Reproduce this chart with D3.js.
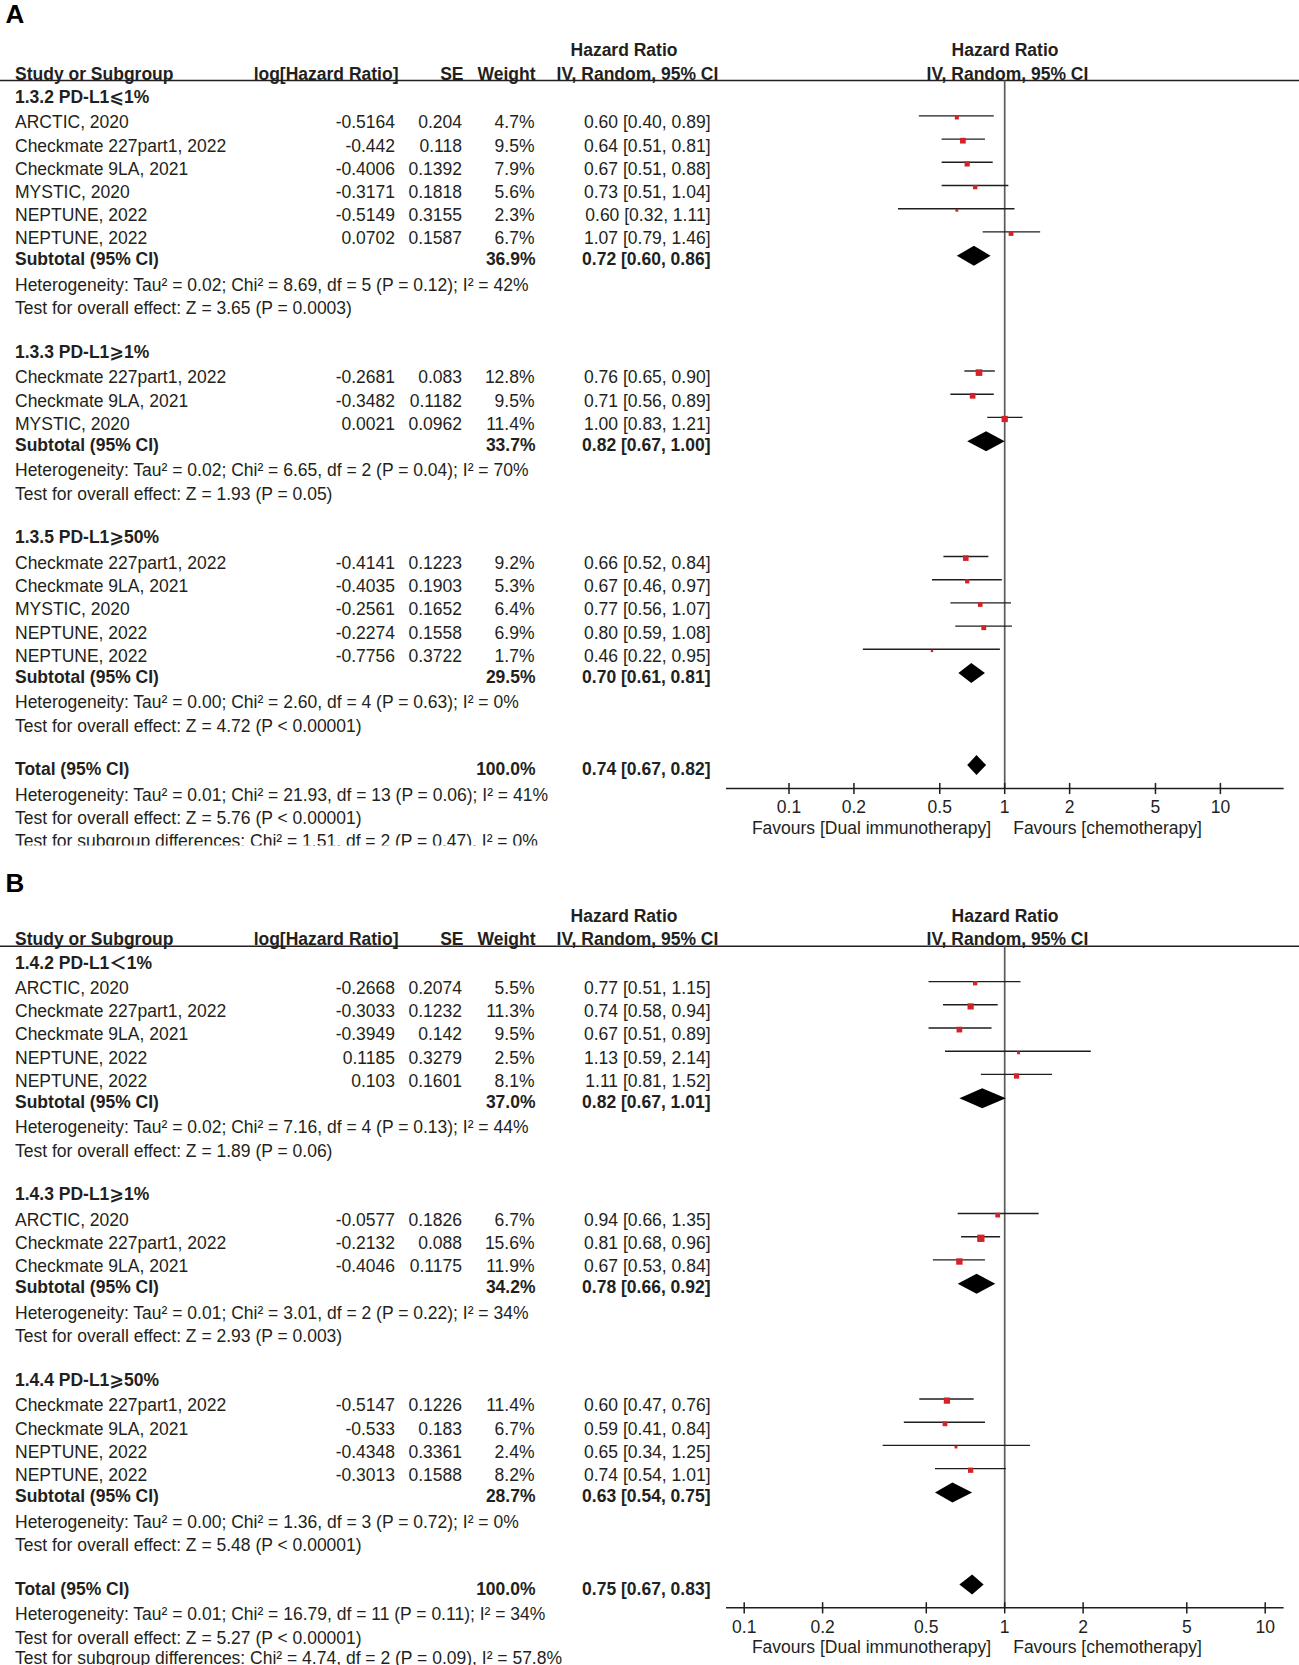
<!DOCTYPE html>
<html>
<head>
<meta charset="utf-8">
<script src="https://cdn.jsdelivr.net/npm/d3@7"></script>
<style>
  html, body { margin: 0; padding: 0; background: #fff; }
  svg { display: block; }
  text { font-family: "Liberation Sans", Arial, "DejaVu Sans", "Noto Sans CJK SC", sans-serif; fill: #231f20; }
</style>
</head>
<body>
<svg id="chart" width="1299" height="1665"></svg>
<script>
// ---------------- DATA: Panel A ----------------
const aGroups = ["1.3.2 PD-L1⩽1%", "1.3.3 PD-L1⩾1%", "1.3.5 PD-L1⩾50%"];
const aStudyGroup = [0, 0, 0, 0, 0, 0, 1, 1, 1, 2, 2, 2, 2, 2];
const aStudies = ["ARCTIC, 2020", "Checkmate 227part1, 2022", "Checkmate 9LA, 2021", "MYSTIC, 2020", "NEPTUNE, 2022", "NEPTUNE, 2022",
  "Checkmate 227part1, 2022", "Checkmate 9LA, 2021", "MYSTIC, 2020",
  "Checkmate 227part1, 2022", "Checkmate 9LA, 2021", "MYSTIC, 2020", "NEPTUNE, 2022", "NEPTUNE, 2022"];
const aLogHR = [-0.5164, -0.442, -0.4006, -0.3171, -0.5149, 0.0702, -0.2681, -0.3482, 0.0021, -0.4141, -0.4035, -0.2561, -0.2274, -0.7756];
const aSE = [0.204, 0.118, 0.1392, 0.1818, 0.3155, 0.1587, 0.083, 0.1182, 0.0962, 0.1223, 0.1903, 0.1652, 0.1558, 0.3722];
const aWeight = [4.7, 9.5, 7.9, 5.6, 2.3, 6.7, 12.8, 9.5, 11.4, 9.2, 5.3, 6.4, 6.9, 1.7];
const aHR = [0.60, 0.64, 0.67, 0.73, 0.60, 1.07, 0.76, 0.71, 1.00, 0.66, 0.67, 0.77, 0.80, 0.46];
const aLo = [0.40, 0.51, 0.51, 0.51, 0.32, 0.79, 0.65, 0.56, 0.83, 0.52, 0.46, 0.56, 0.59, 0.22];
const aHi = [0.89, 0.81, 0.88, 1.04, 1.11, 1.46, 0.90, 0.89, 1.21, 0.84, 0.97, 1.07, 1.08, 0.95];
const aSubWeight = [36.9, 33.7, 29.5];
const aSubHR = [0.72, 0.82, 0.70];
const aSubLo = [0.60, 0.67, 0.61];
const aSubHi = [0.86, 1.00, 0.81];
const aHet = ["Heterogeneity: Tau² = 0.02; Chi² = 8.69, df = 5 (P = 0.12); I² = 42%",
  "Heterogeneity: Tau² = 0.02; Chi² = 6.65, df = 2 (P = 0.04); I² = 70%",
  "Heterogeneity: Tau² = 0.00; Chi² = 2.60, df = 4 (P = 0.63); I² = 0%"];
const aTest = ["Test for overall effect: Z = 3.65 (P = 0.0003)",
  "Test for overall effect: Z = 1.93 (P = 0.05)",
  "Test for overall effect: Z = 4.72 (P < 0.00001)"];
const aTotal = [100.0, 0.74, 0.67, 0.82]; // weight, HR, lower, upper
const aFooter = ["Heterogeneity: Tau² = 0.01; Chi² = 21.93, df = 13 (P = 0.06); I² = 41%",
  "Test for overall effect: Z = 5.76 (P < 0.00001)",
  "Test for subgroup differences: Chi² = 1.51, df = 2 (P = 0.47), I² = 0%"];

// ---------------- DATA: Panel B ----------------
const bGroups = ["1.4.2 PD-L1＜1%", "1.4.3 PD-L1⩾1%", "1.4.4 PD-L1⩾50%"];
const bStudyGroup = [0, 0, 0, 0, 0, 1, 1, 1, 2, 2, 2, 2];
const bStudies = ["ARCTIC, 2020", "Checkmate 227part1, 2022", "Checkmate 9LA, 2021", "NEPTUNE, 2022", "NEPTUNE, 2022",
  "ARCTIC, 2020", "Checkmate 227part1, 2022", "Checkmate 9LA, 2021",
  "Checkmate 227part1, 2022", "Checkmate 9LA, 2021", "NEPTUNE, 2022", "NEPTUNE, 2022"];
const bLogHR = [-0.2668, -0.3033, -0.3949, 0.1185, 0.103, -0.0577, -0.2132, -0.4046, -0.5147, -0.533, -0.4348, -0.3013];
const bSE = [0.2074, 0.1232, 0.142, 0.3279, 0.1601, 0.1826, 0.088, 0.1175, 0.1226, 0.183, 0.3361, 0.1588];
const bWeight = [5.5, 11.3, 9.5, 2.5, 8.1, 6.7, 15.6, 11.9, 11.4, 6.7, 2.4, 8.2];
const bHR = [0.77, 0.74, 0.67, 1.13, 1.11, 0.94, 0.81, 0.67, 0.60, 0.59, 0.65, 0.74];
const bLo = [0.51, 0.58, 0.51, 0.59, 0.81, 0.66, 0.68, 0.53, 0.47, 0.41, 0.34, 0.54];
const bHi = [1.15, 0.94, 0.89, 2.14, 1.52, 1.35, 0.96, 0.84, 0.76, 0.84, 1.25, 1.01];
const bSubWeight = [37.0, 34.2, 28.7];
const bSubHR = [0.82, 0.78, 0.63];
const bSubLo = [0.67, 0.66, 0.54];
const bSubHi = [1.01, 0.92, 0.75];
const bHet = ["Heterogeneity: Tau² = 0.02; Chi² = 7.16, df = 4 (P = 0.13); I² = 44%",
  "Heterogeneity: Tau² = 0.01; Chi² = 3.01, df = 2 (P = 0.22); I² = 34%",
  "Heterogeneity: Tau² = 0.00; Chi² = 1.36, df = 3 (P = 0.72); I² = 0%"];
const bTest = ["Test for overall effect: Z = 1.89 (P = 0.06)",
  "Test for overall effect: Z = 2.93 (P = 0.003)",
  "Test for overall effect: Z = 5.48 (P < 0.00001)"];
const bTotal = [100.0, 0.75, 0.67, 0.83];
const bFooter = ["Heterogeneity: Tau² = 0.01; Chi² = 16.79, df = 11 (P = 0.11); I² = 34%",
  "Test for overall effect: Z = 5.27 (P < 0.00001)",
  "Test for subgroup differences: Chi² = 4.74, df = 2 (P = 0.09), I² = 57.8%"];

// ---------------- AXIS LABELS ----------------
const tickValues = [0.1, 0.2, 0.5, 1, 2, 5, 10];
const favoursLeft = "Favours [Dual immunotherapy]";
const favoursRight = "Favours [chemotherapy]";
const colHeaders = ["Study or Subgroup", "log[Hazard Ratio]", "SE", "Weight", "Hazard Ratio", "IV, Random, 95% CI"];

// ---------------- DRAWING ----------------
const FS = 17.5;
const CAP = FS * 0.358;
const svg = d3.select("#chart");
svg.append("rect").attr("width", 1299).attr("height", 1665).attr("fill", "#fff");

const col = { study: 15, logHR: 395, se: 462, weight: 534.5, ci: 710.5 };
const fmt2 = d3.format(".2f");
const fmtW = v => v.toFixed(1) + "%";
const ciText = (h, l, u) => `${fmt2(h)} [${fmt2(l)}, ${fmt2(u)}]`;

function txt(g, x, yc, s, opts = {}) {
  return g.append("text")
    .attr("x", x).attr("y", yc + CAP)
    .attr("text-anchor", opts.anchor || "start")
    .attr("font-size", opts.size || FS)
    .attr("font-weight", opts.bold ? "bold" : "normal")
    .text(s);
}

function drawPanel(P) {
  const g = svg.append("g");
  if (P.clipY) {
    const id = "clip" + P.label;
    svg.append("clipPath").attr("id", id).append("rect").attr("x", 0).attr("y", 0).attr("width", 1299).attr("height", P.clipY);
    g.attr("clip-path", `url(#${id})`);
  }
  const x = d3.scaleLog().domain([0.1, 10]).range(P.xRange);
  const wScale = d3.scaleSqrt().domain([0, 16]).range([0, 7.4]);

  // layout of rows
  let y = P.startY;
  const rows = [];
  P.groups.forEach((gname, gi) => {
    if (gi > 0) y += 43.6;
    rows.push({ type: "group", y, gi });
    const idx = P.studyGroup.map((v, i) => v === gi ? i : -1).filter(i => i >= 0);
    idx.forEach((i, k) => { y += (k === 0 ? 25.5 : 23.2); rows.push({ type: "study", y, i }); });
    y += 20.8; rows.push({ type: "sub", y, gi });
    y += 25.8; rows.push({ type: "het", y, gi });
    y += 23.4; rows.push({ type: "test", y, gi });
  });
  y += 43.6; rows.push({ type: "total", y });
  const totalY = y;
  y += 25.5; rows.push({ type: "fhet", y });
  y += 23.4; rows.push({ type: "ftest", y });
  y += 22.4; rows.push({ type: "fsub", y });

  const headerLineY = P.startY - 16.1;
  const axisY = totalY + 19.4;

  // Panel label
  txt(svg, 5.5, P.labelY, P.label, { size: 26, bold: true }).style("fill", "#000");

  // Header
  txt(g, col.study, P.startY - 23.3, colHeaders[0], { bold: true });
  txt(g, 398.5, P.startY - 23.3, colHeaders[1], { bold: true, anchor: "end" });
  txt(g, 463.5, P.startY - 23.3, colHeaders[2], { bold: true, anchor: "end" });
  txt(g, 535.5, P.startY - 23.3, colHeaders[3], { bold: true, anchor: "end" });
  txt(g, 624, P.startY - 46.7, colHeaders[4], { bold: true, anchor: "middle" });
  txt(g, 637.5, P.startY - 23.3, colHeaders[5], { bold: true, anchor: "middle" });
  txt(g, 1005, P.startY - 46.7, colHeaders[4], { bold: true, anchor: "middle" });
  txt(g, 1007.5, P.startY - 23.3, colHeaders[5], { bold: true, anchor: "middle" });
  g.append("line").attr("x1", 0).attr("x2", 1299).attr("y1", headerLineY).attr("y2", headerLineY)
    .attr("stroke", "#231f20").attr("stroke-width", 1.6);

  // vertical null line
  g.append("line").attr("x1", x(1)).attr("x2", x(1)).attr("y1", headerLineY).attr("y2", axisY)
    .attr("stroke", "#5a5a5a").attr("stroke-width", 1.7);

  rows.forEach(r => {
    if (r.type === "group") {
      txt(g, col.study, r.y, P.groups[r.gi], { bold: true });
    } else if (r.type === "study") {
      const i = r.i;
      txt(g, col.study, r.y, P.studies[i]);
      txt(g, col.logHR, r.y, String(P.logHR[i]), { anchor: "end" });
      txt(g, col.se, r.y, String(P.se[i]), { anchor: "end" });
      txt(g, col.weight, r.y, fmtW(P.weight[i]), { anchor: "end" });
      txt(g, col.ci, r.y, ciText(P.hr[i], P.lo[i], P.hi[i]), { anchor: "end" });
      const ly = r.y - 6.2;
      g.append("line").attr("x1", x(P.lo[i])).attr("x2", x(P.hi[i])).attr("y1", ly).attr("y2", ly)
        .attr("stroke", "#1e1e1e").attr("stroke-width", 1.4);
      const s = wScale(P.weight[i]);
      g.append("rect").attr("x", x(P.hr[i]) - s / 2).attr("y", ly + 1.6 - s / 2)
        .attr("width", s).attr("height", s).attr("fill", "#d2232a");
    } else if (r.type === "sub") {
      const gi = r.gi;
      txt(g, col.study, r.y, "Subtotal (95% CI)", { bold: true });
      txt(g, col.weight + 1, r.y, fmtW(P.subW[gi]), { anchor: "end", bold: true });
      txt(g, col.ci, r.y, ciText(P.subHR[gi], P.subLo[gi], P.subHi[gi]), { anchor: "end", bold: true });
      const dy = r.y - 3.2;
      g.append("path").attr("d",
        `M${x(P.subLo[gi])},${dy} L${x(P.subHR[gi])},${dy - 10} L${x(P.subHi[gi])},${dy} L${x(P.subHR[gi])},${dy + 10} Z`)
        .attr("fill", "#000");
    } else if (r.type === "het") {
      txt(g, col.study, r.y, P.het[r.gi]);
    } else if (r.type === "test") {
      txt(g, col.study, r.y, P.test[r.gi]);
    } else if (r.type === "total") {
      txt(g, col.study, r.y, "Total (95% CI)", { bold: true });
      txt(g, col.weight + 1, r.y, fmtW(P.total[0]), { anchor: "end", bold: true });
      txt(g, col.ci, r.y, ciText(P.total[1], P.total[2], P.total[3]), { anchor: "end", bold: true });
      const dy = r.y - 4;
      g.append("path").attr("d",
        `M${x(P.total[2])},${dy} L${x(P.total[1])},${dy - 10} L${x(P.total[3])},${dy} L${x(P.total[1])},${dy + 10} Z`)
        .attr("fill", "#000");
    } else if (r.type === "fhet") {
      txt(g, col.study, r.y, P.footer[0]);
    } else if (r.type === "ftest") {
      txt(g, col.study, r.y, P.footer[1]);
    } else if (r.type === "fsub") {
      txt(g, col.study, r.y - P.lastLift, P.footer[2]);
    }
  });

  // axis
  const ax = svg.append("g");
  ax.append("line").attr("x1", 726).attr("x2", 1283.6).attr("y1", axisY).attr("y2", axisY)
    .attr("stroke", "#1e1e1e").attr("stroke-width", 1.6);
  tickValues.forEach(t => {
    ax.append("line").attr("x1", x(t)).attr("x2", x(t)).attr("y1", axisY - 5.6).attr("y2", axisY + 5.6)
      .attr("stroke", "#1e1e1e").attr("stroke-width", 1.5);
    txt(ax, x(t), axisY + P.tickDy, String(t), { anchor: "middle" });
  });
  txt(ax, x(1) - 13.5, axisY + P.favDy, favoursLeft, { anchor: "end" });
  txt(ax, x(1) + 8.5, axisY + P.favDy, favoursRight);
}

drawPanel({
  label: "A", labelY: 16.3, startY: 96.6, xRange: [789, 1220.4], clipY: 845.5, tickDy: 18.2, favDy: 38.8, lastLift: 0,
  groups: aGroups, studyGroup: aStudyGroup, studies: aStudies, logHR: aLogHR, se: aSE, weight: aWeight,
  hr: aHR, lo: aLo, hi: aHi, subW: aSubWeight, subHR: aSubHR, subLo: aSubLo, subHi: aSubHi,
  het: aHet, test: aTest, total: aTotal, footer: aFooter
});
drawPanel({
  label: "B", labelY: 886, startY: 962.3, xRange: [744.2, 1265.2], clipY: null, tickDy: 19.3, favDy: 39.3, lastLift: 1.5,
  groups: bGroups, studyGroup: bStudyGroup, studies: bStudies, logHR: bLogHR, se: bSE, weight: bWeight,
  hr: bHR, lo: bLo, hi: bHi, subW: bSubWeight, subHR: bSubHR, subLo: bSubLo, subHi: bSubHi,
  het: bHet, test: bTest, total: bTotal, footer: bFooter
});
</script>
</body>
</html>
